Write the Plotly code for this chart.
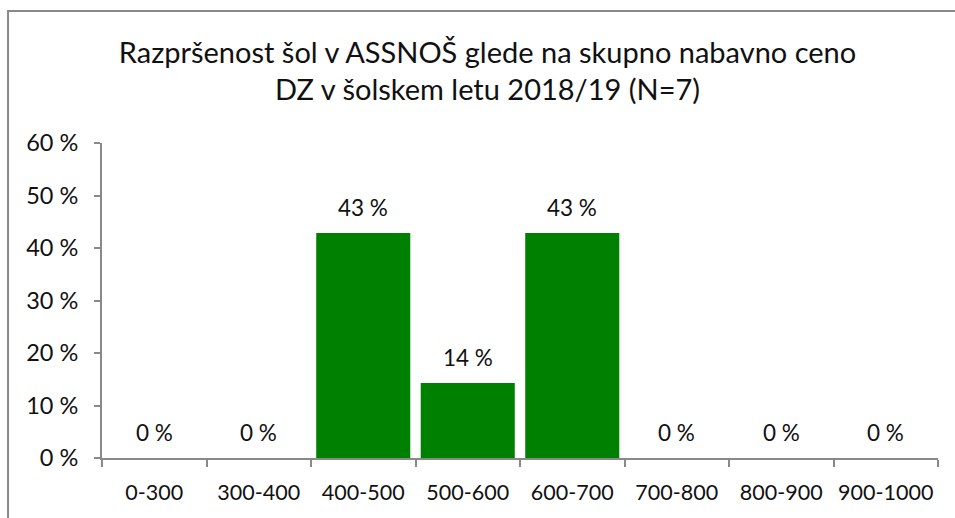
import plotly.graph_objects as go

# Price ranges (EUR) and share of schools in each range
categories = ["0-300", "300-400", "400-500", "500-600", "600-700", "700-800", "800-900", "900-1000"]
school_counts = [0, 0, 3, 1, 3, 0, 0, 0]
n_schools = 7
shares = [100 * c / n_schools for c in school_counts]
labels = [f"{round(s)} %" for s in shares]

title_lines = ["Razpršenost šol v ASSNOŠ glede na skupno nabavno ceno",
               "DZ v šolskem letu 2018/19 (N=7)"]

FONT = "Lato"
AXIS_GREY = "#898989"
TEXT = "#111111"

fig = go.Figure()
fig.add_trace(go.Bar(
    x=categories, y=shares,
    marker=dict(color="#008000", line=dict(width=0)),
    hoverinfo="x+y",
))

for cat, val, lab in zip(categories, shares, labels):
    fig.add_annotation(x=cat, y=val, text=lab, showarrow=False,
                       yanchor="middle", yshift=26,
                       font=dict(family=FONT, size=22.5, color=TEXT))

# Outer chart frame
fig.add_shape(type="rect", xref="paper", yref="paper",
              x0=-0.1124, x1=1.1, y0=-0.5, y1=1.419,
              line=dict(color=AXIS_GREY, width=2))

fig.update_layout(
    width=955, height=518,
    margin=dict(l=102, r=17, t=143, b=60, autoexpand=False),
    paper_bgcolor="white", plot_bgcolor="white",
    bargap=0.1,
    showlegend=False,
    title=dict(text="<br>".join(title_lines), x=0.5105, xanchor="center",
               y=0.879, yanchor="top",
               font=dict(family=FONT, size=29, color=TEXT)),
    font=dict(family=FONT, color=TEXT),
)
fig.update_xaxes(
    type="category", tickson="boundaries", tickangle=0, automargin=False,
    showline=True, linecolor=AXIS_GREY, linewidth=2,
    ticks="outside", ticklen=7, tickcolor=AXIS_GREY, tickwidth=2,
    ticklabelstandoff=14,
    showgrid=False, tickfont=dict(family=FONT, size=21.5, color=TEXT),
)
fig.update_yaxes(
    range=[0, 60], dtick=10, ticksuffix=" %", automargin=False,
    showline=True, linecolor=AXIS_GREY, linewidth=2,
    ticks="outside", ticklen=6, tickcolor=AXIS_GREY, tickwidth=2,
    ticklabelstandoff=11,
    showgrid=False, zeroline=False,
    tickfont=dict(family=FONT, size=23.5, color=TEXT),
)

fig.write_html("out.html")
